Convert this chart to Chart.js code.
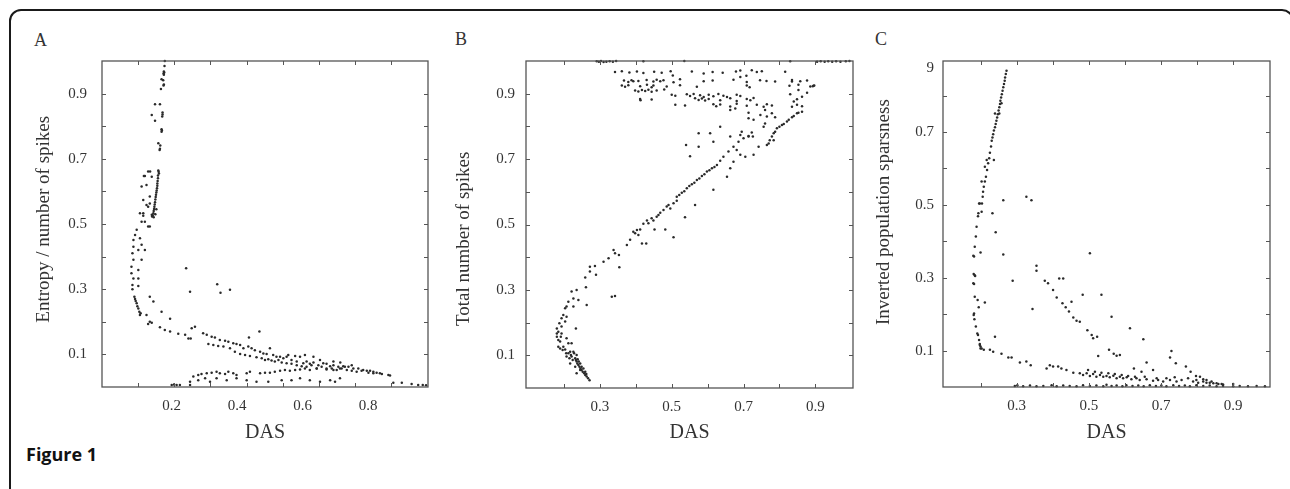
<!DOCTYPE html>
<html>
<head>
<meta charset="utf-8">
<script src="https://cdn.jsdelivr.net/npm/chart.js@4.4.1/dist/chart.umd.min.js"></script>
<style>
  body { margin: 0; background: #fff; width: 1290px; height: 489px; overflow: hidden; position: relative; }
  .frame { position: absolute; left: 9px; top: 9px; width: 1281px; height: 600px; border: 2px solid #1a1a1a; border-radius: 12px; }
  canvas { position: absolute; top: 0; }
  .letter { position: absolute; font-family: "Liberation Serif", serif; font-size: 18px; color: #333; }
  .caption { position: absolute; left: 26px; top: 442px; font-family: "Open Sans", "Liberation Sans", sans-serif; font-weight: bold; font-size: 18px; color: #111; }
</style>
</head>
<body>
<div class="frame"></div>
<div class="letter" style="left:34px;top:30px">A</div>
<div class="letter" style="left:455px;top:29px">B</div>
<div class="letter" style="left:875px;top:29px">C</div>
<div class="caption">Figure 1</div>
<canvas id="chartA" width="440" height="489" style="left:0"></canvas>
<canvas id="chartB" width="430" height="489" style="left:430px"></canvas>
<canvas id="chartC" width="430" height="489" style="left:860px"></canvas>
<script>
// --- Panel A: DAS vs entropy / number of spikes ---
const dotsA = [
  [0.179,1.0],[0.178,0.985],[0.176,0.968],[0.177,0.965],[0.175,0.962],[0.176,0.958],[0.169,0.944],[0.174,0.941],[0.176,0.928],[0.175,0.925],[0.167,0.914],
  [0.149,0.867],[0.164,0.867],[0.139,0.834],[0.172,0.842],[0.172,0.836],[0.171,0.830],[0.149,0.817],
  [0.169,0.791],[0.170,0.787],[0.169,0.783],[0.159,0.748],[0.165,0.741],[0.164,0.731],[0.163,0.727],
  [0.118,0.647],[0.134,0.661],[0.139,0.645],[0.159,0.664],[0.160,0.660],[0.161,0.655],[0.158,0.649],
  [0.158,0.640],[0.157,0.632],[0.156,0.624],[0.156,0.617],[0.155,0.610],[0.154,0.603],[0.153,0.597],[0.152,0.590],[0.151,0.583],
  [0.150,0.575],[0.149,0.567],[0.148,0.560],[0.147,0.553],[0.146,0.546],[0.145,0.540],[0.144,0.533],[0.142,0.527],[0.140,0.523],
  [0.145,0.521],[0.150,0.530],[0.153,0.545],
  [0.115,0.647],[0.128,0.661],[0.108,0.615],[0.123,0.620],[0.113,0.574],[0.133,0.584],[0.128,0.553],[0.103,0.533],[0.113,0.525],[0.128,0.492],
  [0.133,0.563],[0.123,0.558],[0.113,0.533],[0.108,0.507],[0.118,0.507],[0.133,0.492],[0.139,0.528],[0.093,0.482],[0.088,0.466],
  [0.103,0.456],[0.083,0.451],[0.108,0.436],[0.083,0.430],[0.098,0.420],[0.118,0.420],[0.080,0.410],[0.083,0.390],[0.108,0.390],
  [0.077,0.369],[0.098,0.359],[0.077,0.349],[0.083,0.333],[0.098,0.333],[0.080,0.313],[0.098,0.310],[0.080,0.300],
  [0.086,0.277],[0.088,0.270],[0.090,0.264],[0.093,0.257],[0.095,0.248],[0.098,0.241],[0.101,0.231],[0.103,0.221],[0.105,0.226],
  [0.133,0.277],[0.144,0.262],[0.123,0.221],[0.133,0.200],[0.128,0.193],[0.139,0.197],[0.169,0.231],[0.195,0.209],[0.164,0.183],
  [0.179,0.175],[0.195,0.170],[0.220,0.163],[0.241,0.160],[0.251,0.149],[0.258,0.149],[0.261,0.180],[0.271,0.185],
  [0.244,0.364],[0.256,0.292],[0.339,0.315],[0.349,0.289],[0.378,0.298],[0.468,0.170],[0.436,0.152],
  [0.296,0.165],[0.307,0.160],[0.322,0.154],[0.332,0.152],[0.347,0.144],[0.363,0.142],[0.373,0.139],[0.388,0.134],[0.398,0.132],
  [0.409,0.129],[0.419,0.119],[0.434,0.124],[0.444,0.119],[0.454,0.113],[0.470,0.108],[0.480,0.103],[0.490,0.101],[0.500,0.119],
  [0.510,0.098],[0.520,0.093],[0.531,0.093],[0.541,0.088],[0.556,0.098],[0.566,0.083],[0.582,0.078],[0.592,0.093],[0.602,0.073],
  [0.612,0.078],[0.622,0.071],[0.633,0.075],[0.648,0.067],[0.663,0.073],[0.673,0.071],[0.684,0.064],[0.694,0.067],[0.709,0.062],
  [0.724,0.064],[0.740,0.062],[0.755,0.057],[0.770,0.057],[0.785,0.052],[0.796,0.050],[0.806,0.050],[0.816,0.047],[0.826,0.044],
  [0.836,0.042],[0.862,0.037],[0.867,0.035],
  [0.312,0.132],[0.327,0.129],[0.342,0.126],[0.358,0.124],[0.378,0.119],[0.393,0.108],[0.409,0.101],[0.424,0.098],[0.439,0.095],
  [0.459,0.091],[0.475,0.088],[0.485,0.083],[0.495,0.085],[0.505,0.081],[0.515,0.078],[0.526,0.083],[0.536,0.075],[0.551,0.073],
  [0.566,0.071],[0.582,0.067],[0.597,0.064],[0.612,0.062],[0.627,0.067],[0.643,0.057],[0.658,0.062],[0.673,0.054],[0.689,0.057],
  [0.704,0.052],[0.719,0.057],[0.735,0.052],[0.750,0.050],[0.765,0.047],[0.780,0.050],[0.801,0.044],[0.816,0.042],[0.842,0.040],
  [0.551,0.093],[0.577,0.095],[0.607,0.098],[0.633,0.093],[0.653,0.083],[0.694,0.078],[0.715,0.075],[0.750,0.067],
  [0.281,0.037],[0.291,0.040],[0.307,0.042],[0.322,0.044],[0.337,0.047],[0.347,0.042],[0.363,0.040],[0.373,0.047],[0.388,0.042],
  [0.398,0.037],[0.429,0.042],[0.439,0.047],[0.470,0.042],[0.485,0.044],[0.500,0.044],[0.515,0.047],[0.531,0.050],[0.546,0.052],
  [0.561,0.050],[0.577,0.052],[0.592,0.054],[0.607,0.057],[0.622,0.052],[0.643,0.057],[0.673,0.057],[0.694,0.052],[0.714,0.057],[0.729,0.062],
  [0.281,0.021],[0.302,0.027],[0.317,0.016],[0.337,0.027],[0.368,0.021],[0.398,0.027],[0.429,0.021],[0.459,0.016],[0.495,0.016],
  [0.536,0.021],[0.566,0.021],[0.592,0.027],[0.622,0.021],[0.653,0.016],[0.684,0.021],[0.699,0.016],[0.714,0.027],[0.256,0.016],[0.266,0.032],
  [0.200,0.006],[0.207,0.008],[0.215,0.006],[0.225,0.006],[0.256,0.006],[0.877,0.013],[0.903,0.013],[0.933,0.009],[0.953,0.006],[0.967,0.006],[0.977,0.005]
];

// --- Panel B: DAS vs total number of spikes ---
const dotsB = [
  [0.291,0.999],[0.297,0.998],[0.303,1.0],[0.310,0.997],[0.318,0.998],[0.327,0.999],[0.336,0.998],[0.345,1.0],[0.421,0.999],[0.535,1.0],
  [0.830,0.999],[0.905,0.998],[0.915,0.999],[0.926,0.998],[0.936,0.999],[0.947,0.998],[0.958,0.999],[0.970,0.998],[0.985,0.999],[0.995,1.0],
  [0.342,0.966],[0.361,0.969],[0.382,0.965],[0.403,0.968],[0.421,0.963],[0.451,0.967],[0.472,0.964],[0.497,0.969],[0.556,0.968],
  [0.589,0.962],[0.614,0.966],[0.642,0.964],[0.679,0.968],[0.691,0.971],[0.723,0.972],[0.737,0.966],[0.751,0.969],[0.816,0.967],
  [0.503,0.956],[0.691,0.951],[0.708,0.955],
  [0.367,0.940],[0.379,0.936],[0.388,0.941],[0.393,0.938],[0.407,0.939],[0.430,0.942],[0.449,0.937],[0.458,0.943],[0.468,0.938],
  [0.477,0.941],[0.505,0.935],[0.523,0.944],[0.589,0.938],[0.614,0.940],[0.672,0.943],[0.709,0.936],[0.746,0.941],[0.764,0.939],
  [0.788,0.937],[0.835,0.942],[0.858,0.938],[0.877,0.940],
  [0.361,0.925],[0.370,0.921],[0.379,0.926],[0.412,0.923],[0.431,0.927],[0.444,0.920],[0.449,0.925],[0.486,0.922],[0.523,0.926],
  [0.570,0.921],[0.709,0.925],[0.717,0.920],[0.828,0.924],[0.853,0.927],
  [0.398,0.910],[0.407,0.907],[0.417,0.911],[0.426,0.908],[0.435,0.912],[0.444,0.906],[0.458,0.910],[0.479,0.913],
  [0.500,0.897],[0.510,0.894],[0.542,0.898],[0.551,0.893],[0.561,0.899],[0.579,0.895],[0.589,0.890],[0.603,0.897],[0.616,0.892],
  [0.630,0.899],[0.644,0.894],[0.654,0.890],[0.681,0.897],[0.691,0.893],[0.830,0.898],
  [0.412,0.884],[0.413,0.880],[0.444,0.882],[0.565,0.886],[0.575,0.881],[0.584,0.885],[0.593,0.879],[0.603,0.884],[0.635,0.880],
  [0.663,0.886],[0.681,0.878],[0.709,0.884],[0.719,0.880],[0.728,0.887],
  [0.510,0.866],[0.537,0.864],[0.616,0.868],[0.624,0.862],[0.635,0.867],[0.663,0.861],[0.681,0.869],[0.709,0.863],[0.737,0.866],
  [0.756,0.860],[0.765,0.868],[0.779,0.864],[0.849,0.866],[0.863,0.862],
  [0.663,0.850],[0.677,0.855],[0.714,0.842],[0.714,0.825],[0.747,0.835],[0.760,0.850],[0.765,0.830],[0.779,0.840],[0.788,0.828],
  [0.728,0.820],[0.760,0.809],[0.756,0.799],
  [0.895,0.924],[0.897,0.925],[0.893,0.923],[0.886,0.922],[0.877,0.903],[0.863,0.891],[0.849,0.883],[0.840,0.876],[0.835,0.860],
  [0.853,0.911],[0.835,0.937],
  [0.863,0.845],[0.853,0.842],[0.849,0.840],[0.840,0.832],[0.835,0.828],[0.826,0.820],[0.821,0.815],[0.812,0.807],[0.807,0.804],
  [0.800,0.799],[0.793,0.794],[0.788,0.784],[0.784,0.779],[0.779,0.769],[0.773,0.758],[0.765,0.743],
  [0.514,0.585],[0.528,0.597],[0.542,0.611],[0.556,0.623],[0.570,0.636],[0.584,0.648],[0.598,0.662],[0.612,0.672],[0.626,0.682],
  [0.635,0.695],[0.644,0.707],[0.658,0.723],[0.672,0.738],[0.686,0.753],[0.700,0.764],[0.714,0.771],[0.723,0.781],
  [0.521,0.590],[0.535,0.602],[0.549,0.618],[0.563,0.628],[0.577,0.641],[0.591,0.654],[0.605,0.666],[0.619,0.676],
  [0.540,0.743],[0.551,0.709],[0.575,0.738],[0.575,0.779],[0.607,0.779],[0.616,0.753],[0.635,0.799],[0.663,0.769],[0.691,0.774],
  [0.695,0.784],[0.714,0.769],[0.726,0.769],[0.728,0.713],[0.742,0.738],[0.770,0.748],[0.784,0.758],[0.654,0.646],[0.663,0.672],
  [0.672,0.692],[0.691,0.713],[0.616,0.606],[0.681,0.728],[0.705,0.707],
  [0.271,0.024],[0.267,0.030],[0.263,0.035],[0.259,0.040],[0.256,0.045],[0.252,0.050],[0.249,0.055],[0.246,0.060],[0.243,0.065],
  [0.240,0.070],[0.237,0.075],[0.235,0.081],[0.233,0.086],[0.231,0.091],[0.245,0.075],[0.249,0.065],[0.254,0.060],[0.241,0.081],
  [0.238,0.088],[0.259,0.050],[0.262,0.043],
  [0.217,0.075],[0.221,0.096],[0.235,0.101],[0.228,0.106],[0.212,0.106],[0.207,0.096],[0.226,0.111],[0.217,0.111],[0.245,0.055],
  [0.235,0.045],[0.231,0.065],[0.224,0.086],[0.215,0.091],[0.206,0.106],[0.219,0.101],
  [0.184,0.126],[0.189,0.142],[0.180,0.157],[0.184,0.172],[0.180,0.182],[0.187,0.198],[0.193,0.213],[0.198,0.223],[0.203,0.244],
  [0.207,0.249],[0.212,0.264],[0.226,0.274],[0.221,0.295],[0.235,0.300],[0.226,0.249],[0.240,0.269],[0.233,0.182],[0.212,0.137],
  [0.207,0.152],[0.198,0.126],[0.193,0.167],[0.191,0.157],[0.184,0.147],[0.193,0.188],[0.203,0.203],[0.207,0.218],[0.189,0.121],
  [0.196,0.116],[0.203,0.118],[0.221,0.137],[0.180,0.167],
  [0.261,0.308],[0.259,0.338],[0.272,0.371],[0.272,0.356],[0.286,0.373],[0.289,0.346],[0.263,0.254],[0.310,0.386],[0.324,0.397],
  [0.338,0.422],[0.342,0.412],[0.354,0.369],[0.353,0.407],[0.333,0.279],[0.342,0.281],[0.375,0.437],[0.384,0.453],[0.393,0.478],
  [0.398,0.473],[0.403,0.483],[0.412,0.485],[0.417,0.442],[0.429,0.442],[0.421,0.502],[0.431,0.512],[0.444,0.519],[0.449,0.512],
  [0.452,0.485],[0.463,0.529],[0.468,0.536],[0.477,0.544],[0.482,0.485],[0.486,0.555],[0.491,0.560],[0.505,0.461],[0.514,0.573],
  [0.537,0.522],[0.565,0.560],[0.407,0.468],[0.435,0.504],[0.458,0.524],[0.496,0.549],[0.505,0.565]
];

// --- Panel C: DAS vs inverted population sparsness ---
const dotsC = [
  [0.272,0.868],[0.270,0.859],[0.268,0.850],[0.267,0.841],[0.265,0.832],[0.263,0.823],[0.261,0.813],[0.259,0.804],[0.257,0.795],
  [0.255,0.786],[0.254,0.777],[0.252,0.768],[0.250,0.759],[0.248,0.749],[0.246,0.740],[0.244,0.731],[0.242,0.722],[0.240,0.713],
  [0.237,0.704],[0.235,0.694],[0.233,0.685],[0.231,0.676],[0.229,0.660],[0.226,0.643],[0.224,0.628],[0.221,0.614],[0.218,0.596],
  [0.215,0.577],[0.212,0.564],[0.209,0.550],[0.207,0.536],[0.206,0.522],[0.204,0.504],
  [0.258,0.779],[0.252,0.751],[0.240,0.751],[0.237,0.623],[0.217,0.623],[0.212,0.605],
  [0.196,0.504],[0.194,0.477],[0.189,0.440],[0.187,0.413],[0.184,0.385],[0.182,0.358],[0.184,0.307],[0.180,0.285],[0.184,0.248],
  [0.182,0.202],[0.187,0.166],[0.191,0.147],[0.196,0.129],[0.198,0.115],[0.200,0.106],[0.209,0.102],
  [0.198,0.504],[0.203,0.481],[0.193,0.469],[0.180,0.360],[0.200,0.369],[0.233,0.477],[0.242,0.425],[0.263,0.364],[0.289,0.292],
  [0.181,0.310],[0.185,0.305],[0.182,0.283],[0.192,0.239],[0.212,0.232],[0.195,0.219],[0.181,0.198],[0.183,0.186],[0.193,0.143],
  [0.198,0.118],[0.200,0.111],[0.203,0.106],[0.226,0.102],[0.235,0.097],[0.240,0.138],[0.258,0.091],[0.277,0.081],[0.286,0.081],
  [0.309,0.067],[0.327,0.070],[0.339,0.060],[0.344,0.214],[0.355,0.333],[0.355,0.319],[0.378,0.292],[0.387,0.285],[0.401,0.266],
  [0.411,0.246],[0.418,0.298],[0.429,0.298],[0.427,0.230],[0.436,0.219],[0.452,0.234],[0.445,0.207],[0.457,0.191],[0.466,0.182],
  [0.475,0.179],[0.483,0.253],[0.496,0.156],[0.508,0.143],[0.512,0.134],[0.523,0.138],[0.526,0.085],[0.535,0.253],[0.556,0.102],
  [0.563,0.193],[0.569,0.091],[0.577,0.086],[0.586,0.088],[0.614,0.161],[0.625,0.051],[0.651,0.131],[0.646,0.042],[0.660,0.067],
  [0.678,0.047],[0.725,0.081],[0.729,0.099],[0.741,0.065],[0.769,0.056],[0.782,0.042],[0.797,0.030],[0.808,0.028],[0.817,0.021],
  [0.826,0.019],[0.840,0.015],[0.854,0.010],[0.868,0.008],[0.900,0.008],
  [0.503,0.367],[0.263,0.513],[0.327,0.522],[0.341,0.513],[0.203,0.564],
  [0.415,0.056],[0.424,0.051],[0.438,0.047],[0.457,0.039],[0.475,0.038],[0.484,0.033],[0.494,0.038],[0.503,0.030],[0.512,0.036],
  [0.521,0.028],[0.531,0.033],[0.540,0.028],[0.549,0.030],[0.558,0.027],[0.568,0.031],[0.577,0.024],[0.586,0.028],[0.595,0.024],
  [0.605,0.027],[0.618,0.021],[0.632,0.024],[0.641,0.019],[0.660,0.021],[0.678,0.017],[0.692,0.019],[0.706,0.015],[0.725,0.019],
  [0.743,0.015],[0.757,0.019],[0.789,0.015],[0.803,0.012],[0.817,0.015],[0.835,0.012],[0.845,0.010],[0.859,0.008],[0.872,0.007],
  [0.401,0.056],[0.392,0.060],[0.383,0.051],[0.498,0.047],[0.517,0.042],[0.535,0.039],[0.554,0.038],[0.572,0.036],[0.591,0.033],
  [0.609,0.030],[0.628,0.028],[0.655,0.028],[0.688,0.024],[0.715,0.024],[0.738,0.027],[0.775,0.024],[0.798,0.019],[0.826,0.012],
  [0.295,0.003],[0.302,0.005],[0.318,0.002],[0.337,0.004],[0.355,0.002],[0.374,0.003],[0.397,0.005],[0.411,0.002],[0.429,0.004],
  [0.447,0.003],[0.466,0.002],[0.484,0.005],[0.503,0.003],[0.521,0.004],[0.540,0.002],[0.549,0.006],[0.563,0.003],[0.577,0.004],
  [0.593,0.002],[0.604,0.005],[0.621,0.003],[0.637,0.004],[0.652,0.002],[0.669,0.005],[0.686,0.003],[0.701,0.004],[0.715,0.002],
  [0.734,0.005],[0.750,0.003],[0.766,0.004],[0.780,0.002],[0.798,0.005],[0.817,0.003],[0.835,0.004],[0.854,0.002],[0.872,0.003],
  [0.900,0.002],[0.918,0.003],[0.941,0.002],[0.965,0.003],[0.988,0.002]
];

// axis ranges, tick labels and inward tick marks
const xRangeA = [-0.013, 0.983], xRangeB = [0.094, 1.005], xRangeC = [0.096, 1.002];
const yRangeAB = [0, 1], yRangeC = [0, 0.895];
const xLabelsA = [0.2, 0.4, 0.6, 0.8];
const xLabelsBC = [0.3, 0.5, 0.7, 0.9];
const yLabelsAB = [0.1, 0.3, 0.5, 0.7, 0.9];
const yLabelsC = [0.1, 0.3, 0.5, 0.7, 0.876];
const yTextC = ['0.1', '0.3', '0.5', '0.7', '9'];
const xMarksA = [0.097, 0.207, 0.318, 0.429, 0.540, 0.650, 0.761, 0.871];
const xMarksBC = [0.2, 0.3, 0.4, 0.5, 0.6, 0.7, 0.8, 0.9];
const yMarksAB = [0.1, 0.2, 0.3, 0.4, 0.5, 0.6, 0.7, 0.8, 0.9];
const yMarksC = [0.1, 0.2, 0.3, 0.4, 0.5, 0.6, 0.7, 0.8];

const serif = "'Liberation Serif', 'Times New Roman', serif";
const tickColor = '#333';

// box round the plot area with short inward ticks
const framePlugin = {
    id: 'frame',
    afterDraw(chart, args, opts) {
        const {ctx, chartArea: a, scales} = chart;
        ctx.save();
        ctx.strokeStyle = '#555';
        ctx.lineWidth = 1.3;
        ctx.strokeRect(a.left, a.top, a.right - a.left, a.bottom - a.top);
        ctx.lineWidth = 1;
        ctx.beginPath();
        opts.xMarks.forEach(v => {
            const x = Math.round(scales.x.getPixelForValue(v)) + 0.5;
            ctx.moveTo(x, a.bottom); ctx.lineTo(x, a.bottom - 4);
            ctx.moveTo(x, a.top); ctx.lineTo(x, a.top + 4);
        });
        opts.yMarks.forEach(v => {
            const y = Math.round(scales.y.getPixelForValue(v)) + 0.5;
            ctx.moveTo(a.left, y); ctx.lineTo(a.left + 4, y);
            ctx.moveTo(a.right, y); ctx.lineTo(a.right - 4, y);
        });
        ctx.stroke();
        ctx.restore();
    }
};

function makePanel(id, p) {
    return new Chart(document.getElementById(id), {
        type: 'scatter',
        data: { datasets: [{ data: p.dots.map(d => ({ x: d[0], y: d[1] })), pointRadius: 1.25, pointBorderWidth: 0, pointBackgroundColor: '#2a2a2a', clip: 4 }] },
        options: {
            responsive: false,
            animation: false,
            events: [],
            layout: { padding: { top: 61, right: p.padRight, left: 0, bottom: 0 } },
            plugins: { legend: { display: false }, tooltip: { enabled: false }, frame: { xMarks: p.xMarks, yMarks: p.yMarks } },
            scales: {
                x: {
                    type: 'linear', min: p.xRange[0], max: p.xRange[1],
                    grid: { display: false, drawTicks: false }, border: { display: false },
                    afterBuildTicks: s => { s.ticks = p.xLabels.map(v => ({ value: v })); },
                    afterFit: s => { s.height = p.xHeight; },
                    ticks: { autoSkip: false, maxRotation: 0, padding: 10, color: tickColor, font: { family: serif, size: 15 }, callback: v => v.toFixed(1) },
                    title: { display: true, text: 'DAS', color: '#333', font: { family: serif, size: 20 }, padding: { top: 0, bottom: 44 } }
                },
                y: {
                    type: 'linear', min: p.yRange[0], max: p.yRange[1],
                    grid: { display: false, drawTicks: false }, border: { display: false },
                    afterBuildTicks: s => { s.ticks = p.yLabels.map(v => ({ value: v })); },
                    afterFit: s => { s.width = p.yWidth; },
                    ticks: { autoSkip: false, padding: p.yPad, color: tickColor, font: { family: serif, size: 15 }, callback: (v, i) => p.yText ? p.yText[i] : v.toFixed(1) },
                    title: { display: true, text: p.yTitle, color: '#333', font: { family: serif, size: 19 }, padding: { top: p.yTitlePad, bottom: 0 } }
                }
            }
        },
        plugins: [framePlugin]
    });
}

// the rotated titles sit a little off centre in the source figure; padding spaces shift them
makePanel('chartA', { dots: dotsA, xRange: xRangeA, yRange: yRangeAB, xLabels: xLabelsA, yLabels: yLabelsAB, xMarks: xMarksA, yMarks: yMarksAB,
    yWidth: 102, xHeight: 102, padRight: 12, yPad: 15, yTitle: '  Entropy / number of spikes', yTitlePad: 33 });
makePanel('chartB', { dots: dotsB, xRange: xRangeB, yRange: yRangeAB, xLabels: xLabelsBC, yLabels: yLabelsAB, xMarks: xMarksBC, yMarks: yMarksAB,
    yWidth: 96, xHeight: 101, padRight: 7, yPad: 11, yTitle: 'Total number of spikes      ', yTitlePad: 23 });
makePanel('chartC', { dots: dotsC, xRange: xRangeC, yRange: yRangeC, xLabels: xLabelsBC, yLabels: yLabelsC, yText: yTextC, xMarks: xMarksBC, yMarks: yMarksC,
    yWidth: 83, xHeight: 102, padRight: 20, yPad: 9, yTitle: '     Inverted population sparsness', yTitlePad: 13 });
</script>
</body>
</html>
